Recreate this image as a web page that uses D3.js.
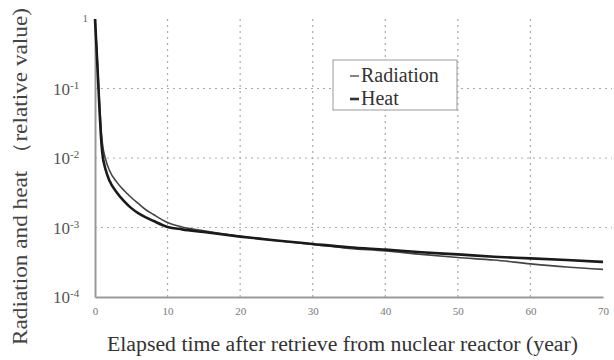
<!DOCTYPE html>
<html><head><meta charset="utf-8">
<script src="https://cdn.jsdelivr.net/npm/d3@7"></script>
<style>body{margin:0;background:#fff}svg{display:block}</style>
</head><body>
<svg id="c" width="614" height="360"></svg>
<script>
const years = [0,0.2,0.4,0.6,0.8,1,1.5,2,3,4,5,6,7,8,10,12,15,20,25,30,35,40,45,50,55,60,65,70];
const heat = [1,0.4,0.15,0.055,0.022,0.012,0.0066,0.0047,0.0032,0.0024,0.0019,0.0016,0.0014,0.00125,0.00102,0.00094,0.00086,0.00074,0.00065,0.00058,0.00052,0.00048,0.00044,0.00041,0.00038,0.00036,0.00034,0.00032];
const radiation = [1,0.45,0.18,0.07,0.03,0.017,0.0093,0.0066,0.0045,0.0034,0.0027,0.0022,0.0018,0.00155,0.00118,0.00102,0.0009,0.00075,0.00065,0.00057,0.0005,0.00046,0.00041,0.00037,0.00034,0.0003,0.00027,0.00025];
const xTicks = [0,10,20,30,40,50,60,70];
const yTicks = [1,0.1,0.01,0.001,0.0001];
const yTickExp = ["","-1","-2","-3","-4"];
const seriesNames = ["Radiation","Heat"];

const SF = '"Liberation Serif"';
const svg = d3.select("#c");
const x = d3.scaleLinear().domain([0,70]).range([95,603]);
const y = d3.scaleLog().domain([1e-4,1]).range([297,19]);

// grid
svg.append("g").selectAll("line").data(xTicks.filter(d=>d>0&&d<70)).join("line")
  .attr("x1",d=>x(d)).attr("x2",d=>x(d)).attr("y1",y(1)).attr("y2",y(1e-4))
  .attr("stroke","#aaa").attr("stroke-width",1.2).attr("stroke-dasharray","2,4");
svg.append("g").selectAll("line").data(yTicks.slice(1,4)).join("line")
  .attr("x1",x(0)).attr("x2",612).attr("y1",d=>y(d)).attr("y2",d=>y(d))
  .attr("stroke","#aaa").attr("stroke-width",1.2).attr("stroke-dasharray","2,4");

// axes
const xa = svg.append("g").attr("transform",`translate(0,${y(1e-4)})`)
  .call(d3.axisBottom(x).tickValues(xTicks).tickSize(0).tickPadding(10));
xa.select(".domain").attr("stroke","#999").attr("stroke-width",2);
xa.selectAll("text").style("font-family",SF).style("font-size","11px").attr("fill","#777");
const ya = svg.append("g").attr("transform",`translate(${x(0)},0)`)
  .call(d3.axisLeft(y).tickValues(yTicks).tickSize(0).tickFormat(""));
ya.select(".domain").attr("stroke","#999").attr("stroke-width",2);

// y tick labels
const yl = svg.append("g");
yTicks.forEach((v,i)=>{
  if(i===0){
    yl.append("text").style("font-family",SF).style("font-size","11px")
      .attr("x",88).attr("y",y(v)+3).attr("text-anchor","end").attr("fill","#666").text("1");
  } else {
    const t = yl.append("text").style("font-family",SF).style("font-size","17px")
      .attr("x",53).attr("y",y(v)+6).attr("fill","#555");
    t.append("tspan").text("10");
    t.append("tspan").attr("dy",-6).style("font-size","11px").text(yTickExp[i]);
  }
});

// lines
const line = d3.line().x((d,i)=>x(years[i])).y(d=>y(d)).curve(d3.curveMonotoneX);
svg.append("path").attr("d",line(radiation)).attr("fill","none").attr("stroke","#444").attr("stroke-width",1.6);
svg.append("path").attr("d",line(heat)).attr("fill","none").attr("stroke","#1a1a1a").attr("stroke-width",2.6);

// legend
const lg = svg.append("g");
lg.append("rect").attr("x",333).attr("y",60).attr("width",124).attr("height",50)
  .attr("fill","#fff").attr("stroke","#999").attr("stroke-width",1);
seriesNames.forEach((n,i)=>{
  const yy = 82 + i*23;
  lg.append("line").attr("x1",350).attr("x2",359).attr("y1",yy-6).attr("y2",yy-6)
    .attr("stroke","#333").attr("stroke-width",i===0?1.2:2.6);
  lg.append("text").style("font-family",SF).style("font-size","20px")
    .attr("x",361).attr("y",yy).attr("fill","#333").text(n);
});

// titles
svg.append("text").style("font-family",SF).style("font-size","20px")
  .attr("x",107).attr("y",351).attr("fill","#333")
  .attr("textLength",471).attr("lengthAdjust","spacingAndGlyphs")
  .text("Elapsed time after retrieve from nuclear reactor (year)");
svg.append("text").style("font-family",SF).style("font-size","20px")
  .attr("transform","translate(27,345) rotate(-90)").attr("fill","#444")
  .attr("textLength",337).attr("lengthAdjust","spacingAndGlyphs")
  .text("Radiation and heat （relative value)");
</script>
</body></html>
